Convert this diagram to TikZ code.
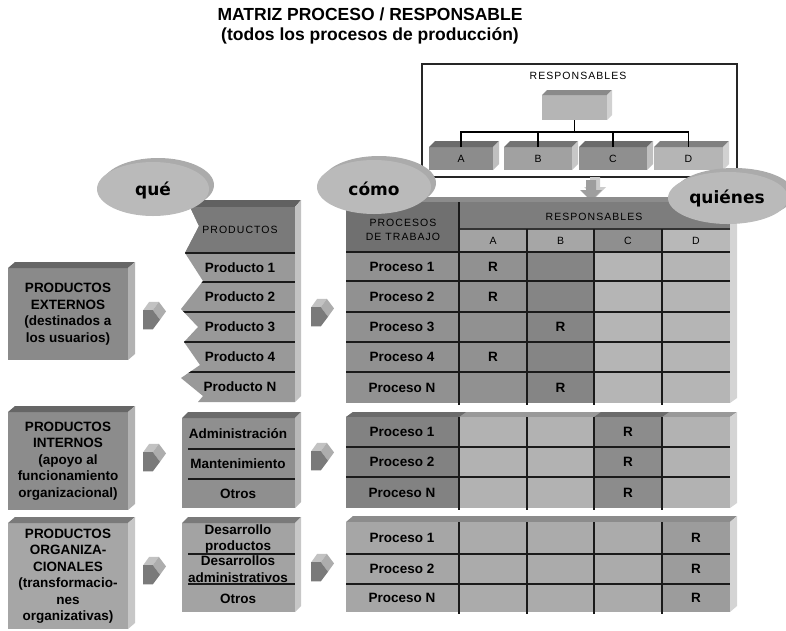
\documentclass[tikz,border=0pt]{standalone}
\usepackage{fontspec}
\setmainfont{Liberation Sans}
\newfontfamily\ovalfont{DejaVu Sans}
\newfontfamily\capsfont[LetterSpace=10]{Liberation Sans}
\usetikzlibrary{calc}

\definecolor{ink}{HTML}{1A1A1A}

% top and right faces of a solid block node: name, dx, dy, top colour, side colour
\newcommand\blockfaces[5]{%
  \fill[#4] (#1.north west) -- ++(#2,-#3) -- ($(#1.north east)+(#2,-#3)$) -- (#1.north east) -- cycle;
  \fill[#5] (#1.north east) -- ++(#2,-#3) -- ($(#1.south east)+(#2,-#3)$) -- (#1.south east) -- cycle;}

% small solid arrow pointing right, centred at (x,y)
\newcommand\fwdarrow[2]{%
  \begin{scope}[shift={(#1,#2)}, scale=1.2]
    \fill[black!24] (-9,-4) -- (-1,-4) -- (4,-11) -- (-4,-11) -- cycle;
    \fill[black!32] (-1,-4) -- (5,4) -- (10,-3) -- (4,-11) -- cycle;
    \fill[black!52] (-9,-4) -- (-1,-4) -- (5,4) -- (-1,12) -- (-9,12) -- cycle;
  \end{scope}}

\begin{document}
\begin{tikzpicture}[x=1pt,y=-1pt,
  every node/.style={inner sep=0pt, outer sep=0pt},
  body/.style={font=\bfseries\fontsize{13.5}{16.5}\selectfont, align=center},
  caps/.style={font=\capsfont\fontsize{10.5}{14}\selectfont, align=center},
  oval/.style={font=\ovalfont\bfseries\fontsize{17}{20}\selectfont},
  headline/.style={font=\bfseries\fontsize{17.5}{20}\selectfont},
  rule/.style={draw=ink, line width=1.3pt},
  heavy/.style={draw=ink, line width=2.4pt},
  colrule/.style={draw=ink, line width=2.2pt},
  link/.style={draw=black, line width=1.5pt},
  discrim/.style={fill=black!33},
  discface/.style={fill=black!27}]

\useasboundingbox (0,0) rectangle (786,630);

% ---------- title ----------
\node[headline] (title) at (370,14) {MATRIZ PROCESO / RESPONSABLE};
\node[headline] (subtitle) at (370,36) {(todos los procesos de producción)};

% ---------- organisation chart of the responsibles ----------
\node[draw=black!85, line width=1.3pt, minimum width=315pt, minimum height=113pt] (panel) at (579.5,120.5) {};
\node[caps] (paneltitle) at (578,76) {RESPONSABLES};

\node[fill=black!29, minimum width=65pt, minimum height=25pt] (chief) at (574.5,107.5) {};
\blockfaces{chief}{5}{5}{black!46}{black!18}

\node[caps, fill=black!45, minimum width=64pt, minimum height=23pt] (ra) at (461,158.5) {A};
\node[caps, fill=black!37, minimum width=68pt, minimum height=23pt] (rb) at (538,158.5) {B};
\node[caps, fill=black!44, minimum width=68pt, minimum height=23pt] (rc) at (613,158.5) {C};
\node[caps, fill=black!29, minimum width=69pt, minimum height=23pt] (rd) at (688.5,158.5) {D};
\blockfaces{ra}{6}{6}{black!58}{black!25}
\blockfaces{rb}{6}{6}{black!55}{black!22}
\blockfaces{rc}{6}{6}{black!58}{black!25}
\blockfaces{rd}{6}{6}{black!50}{black!18}

\coordinate (bus) at (574.5,132);
\draw[link] (chief.south) -- (bus);
\draw[link] (ra.north) |- (bus) -| (rd.north);
\draw[link] (rb.north) -- (rb.north |- bus);
\draw[link] (rc.north) -- (rc.north |- bus);

% arrow down to the matrix
\begin{scope}[shift={(591,190)}]
  \fill[black!20] (-1,-13) -- (9,-13) -- (9,-3) -- (15,-3) -- (4,8) -- (-7,-3) -- (-1,-3) -- cycle;
  \fill[black!38] (-5,-10) -- (5,-10) -- (5,0) -- (11,0) -- (0,11) -- (-11,0) -- (-5,0) -- cycle;
\end{scope}

% ---------- left column: kinds of products ----------
\node[body, fill=black!46, minimum width=120pt, minimum height=92pt] (ext) at (68,314)
  {PRODUCTOS\\EXTERNOS\\(destinados a\\los usuarios)};
\blockfaces{ext}{7}{6}{black!60}{black!30}
\node[body, fill=black!45, minimum width=120pt, minimum height=98pt] (int) at (68,461)
  {PRODUCTOS\\INTERNOS\\(apoyo al\\funcionamiento\\organizacional)};
\blockfaces{int}{7}{6}{black!60}{black!30}
\node[body, fill=black!35, minimum width=120pt, minimum height=106pt] (org) at (68,576)
  {PRODUCTOS\\ORGANIZA-\\CIONALES\\(transformacio-\\nes\\organizativas)};
\blockfaces{org}{7}{6}{black!52}{black!22}

% ---------- products column with torn left edge ----------
\fill[black!62] (190,207) -- (196,200) -- (301,200) -- (295,207) -- cycle;
\fill[black!24] (295,207) -- (301,200) -- (301,396) -- (295,402) -- cycle;
\begin{scope}
  \clip (190,207) -- (199,226) -- (185,253) -- (203,281) -- (181,309) -- (198,327) -- (184,342)
        -- (200,365) -- (181,378) -- (203,396) -- (198,402) -- (295,402) -- (295,207) -- cycle;
  \fill[black!40] (170,200) rectangle (295,410);
  \fill[black!52] (170,200) rectangle (295,253);
  \draw[heavy] (170,253) -- (295,253);
  \foreach \yy in {282,312,342,372} \draw[rule] (170,\yy) -- (295,\yy);
\end{scope}
\node[caps] (prodhead) at (240,230) {PRODUCTOS};
\node[body] (prod1) at (240,267.5) {Producto 1};
\node[body] (prod2) at (240,297) {Producto 2};
\node[body] (prod3) at (240,327) {Producto 3};
\node[body] (prod4) at (240,357) {Producto 4};
\node[body] (prodn) at (240,387) {Producto N};

% internal products
\node[fill=black!44, minimum width=113pt, minimum height=90pt] (admin) at (238.5,463) {};
\blockfaces{admin}{6}{6}{black!58}{black!28}
\draw[rule] (188,449) -- (295,449);
\draw[rule] (188,479) -- (295,479);
\node[body] (adm1) at (238,434) {Administración};
\node[body] (adm2) at (238,464) {Mantenimiento};
\node[body] (adm3) at (238,494) {Otros};

% organisational products
\node[fill=black!36, minimum width=113pt, minimum height=89pt] (dev) at (238.5,567.5) {};
\blockfaces{dev}{6}{6}{black!52}{black!22}
\draw[rule] (188,554) -- (295,554);
\draw[rule] (188,584) -- (295,584);
\node[body] (dev1) at (238,539) {Desarrollo\\productos};
\node[body] (dev2) at (238,569) {Desarrollos\\administrativos};
\node[body] (dev3) at (238,599) {Otros};

% ---------- arrows between the columns ----------
\fwdarrow{154}{315}
\fwdarrow{322}{312}
\fwdarrow{154}{457}
\fwdarrow{322}{456}
\fwdarrow{154}{570}
\fwdarrow{322}{567}

% ---------- matrix, external products ----------
\fill[black!45] (346,202) -- (353,197) -- (737,197) -- (730,202) -- cycle;
\fill[black!17] (730,202) -- (737,197) -- (737,398) -- (730,403) -- cycle;
\fill[black!56] (346,202) rectangle (459,252);
\fill[black!51] (459,202) rectangle (730,229);
\fill[black!36] (459,229) rectangle (527,252);
\fill[black!35] (527,229) rectangle (594,252);
\fill[black!44] (594,229) rectangle (662,252);
\fill[black!28] (662,229) rectangle (730,252);
\fill[black!43] (346,252) rectangle (459,403);
\fill[black!43] (459,252) rectangle (527,403);
\fill[black!48] (527,252) rectangle (594,403);
\fill[black!29] (594,252) rectangle (730,403);
\draw[draw=black!80, line width=1.2pt] (459,229) -- (730,229);
\draw[heavy] (346,252) -- (730,252);
\foreach \yy in {281,312,342,372} \draw[rule] (346,\yy) -- (730,\yy);
\draw[rule] (459,202) -- (459,405);
\draw[rule] (527,229) -- (527,405);
\draw[colrule] (594,229) -- (594,405);
\draw[colrule] (662,229) -- (662,405);

\node[caps] (prochead) at (403,229.5) {PROCESOS\\DE TRABAJO};
\node[caps] (resphead) at (594,217) {RESPONSABLES};
\node[caps] (hA) at (493,241) {A};
\node[caps] (hB) at (560.5,241) {B};
\node[caps] (hC) at (628,241) {C};
\node[caps] (hD) at (696,241) {D};

\node[body] (pa1) at (402,266.5) {Proceso 1};
\node[body] (pa2) at (402,296.5) {Proceso 2};
\node[body] (pa3) at (402,327) {Proceso 3};
\node[body] (pa4) at (402,357) {Proceso 4};
\node[body] (pan) at (402,387.5) {Proceso N};
\node[body] (ra1) at (493,266.5) {R};
\node[body] (ra2) at (493,296.5) {R};
\node[body] (rb3) at (560.5,327) {R};
\node[body] (ra4) at (493,357) {R};
\node[body] (rbn) at (560.5,387.5) {R};

% ---------- matrix, internal products ----------
\fill[black!40] (346,417) -- (353,412) -- (737,412) -- (730,417) -- cycle;
\fill[black!58] (346,417) -- (353,412) -- (466,412) -- (459,417) -- cycle;
\fill[black!58] (594,417) -- (601,412) -- (669,412) -- (662,417) -- cycle;
\fill[black!17] (730,417) -- (737,412) -- (737,503) -- (730,508) -- cycle;
\fill[black!49] (346,417) rectangle (459,508);
\fill[black!30] (459,417) rectangle (594,508);
\fill[black!45] (594,417) rectangle (662,508);
\fill[black!30] (662,417) rectangle (730,508);
\draw[rule] (346,447) -- (730,447);
\draw[rule] (346,477) -- (730,477);
\draw[rule] (459,417) -- (459,510);
\draw[rule] (527,417) -- (527,510);
\draw[colrule] (594,417) -- (594,510);
\draw[colrule] (662,417) -- (662,510);
\node[body] (pb1) at (402,432) {Proceso 1};
\node[body] (pb2) at (402,462) {Proceso 2};
\node[body] (pbn) at (402,492.5) {Proceso N};
\node[body] (rc1) at (628,432) {R};
\node[body] (rc2) at (628,462) {R};
\node[body] (rcn) at (628,492.5) {R};

% ---------- matrix, organisational products ----------
\fill[black!45] (346,522) -- (353,516) -- (737,516) -- (730,522) -- cycle;
\fill[black!17] (730,522) -- (737,516) -- (737,606) -- (730,612) -- cycle;
\fill[black!35] (346,522) rectangle (459,612);
\fill[black!33] (459,522) rectangle (662,612);
\fill[black!39] (662,522) rectangle (730,612);
\draw[rule] (346,554) -- (730,554);
\draw[rule] (346,584) -- (730,584);
\draw[rule] (459,522) -- (459,614);
\draw[rule] (527,522) -- (527,614);
\draw[colrule] (594,522) -- (594,614);
\draw[colrule] (662,522) -- (662,614);
\node[body] (pc1) at (402,538) {Proceso 1};
\node[body] (pc2) at (402,569) {Proceso 2};
\node[body] (pcn) at (402,598) {Proceso N};
\node[body] (rd1) at (696,538) {R};
\node[body] (rd2) at (696,569) {R};
\node[body] (rdn) at (696,598) {R};

% ---------- question discs ----------
\fill[discrim] (158,185) ellipse [x radius=56pt, y radius=27pt];
\fill[discface] (153,189) ellipse [x radius=56pt, y radius=27pt];
\node[oval] (que) at (153,190) {qué};

\fill[discrim] (379,183) ellipse [x radius=57pt, y radius=27pt];
\fill[discface] (374,187) ellipse [x radius=57pt, y radius=27pt];
\node[oval] (como) at (374,189) {cómo};

\fill[discrim] (734,194) ellipse [x radius=60pt, y radius=26pt];
\fill[discface] (728,198) ellipse [x radius=60pt, y radius=26pt];
\node[oval] (quienes) at (727,198) {quiénes};

\end{tikzpicture}
\end{document}
